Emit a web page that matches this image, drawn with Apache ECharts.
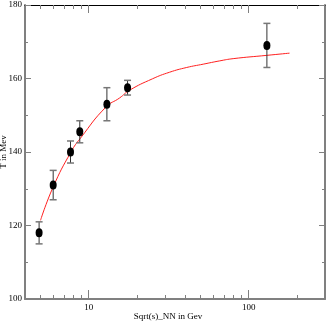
<!DOCTYPE html>
<html>
<head>
<meta charset="utf-8">
<script src="https://cdn.jsdelivr.net/npm/echarts@6/dist/echarts.min.js"></script>
<style>
  html, body { margin: 0; padding: 0; background: #fff; }
  #chart { width: 327px; height: 327px; }
</style>
</head>
<body>
<div id="chart"></div>
<script>
// measured points (sqrt(s_NN) in GeV, T in MeV)
const energy = [4.9, 6.0, 7.7, 8.8, 13.0, 17.5, 130];
const temperature = [118, 131, 140, 145.5, 153, 157.5, 169];
const errLow = [3, 4, 3, 3, 4.5, 2, 6];
const errHigh = [3, 4, 3, 3, 4.5, 2, 6];

// fit curve
const fitEnergy = [5, 6, 7.75, 8.9, 12.8, 15.6, 18, 25, 32, 41, 52, 66, 80, 130, 180];
const fitTemp = [121.4, 130.5, 140, 143.8, 152.2, 154.7, 156.8, 159.9, 161.7, 163, 163.9, 164.8, 165.4, 166.3, 166.9];

// tick labels
const xMajor = [10, 100];
const xMinor = [5, 6, 7, 8, 9, 20, 30, 40, 50, 60, 70, 80, 90, 200];
const yMin = 100, yMax = 180, yStep = 20;

const font = 'Liberation Serif';
const axisGray = '#808080';

const chart = echarts.init(document.getElementById('chart'));

function xAxisDef(pos, ticks, len, showLabel, showLine) {
  return {
    type: 'log',
    logBase: 10,
    min: 4,
    max: 300,
    position: pos,
    axisLine: { show: showLine, lineStyle: { color: pos === 'top' ? '#000' : axisGray, width: pos === 'top' ? 1 : 2 } },
    axisTick: { show: true, inside: true, length: len, customValues: ticks, lineStyle: { color: axisGray, width: 1 } },
    axisLabel: { show: showLabel, customValues: xMajor, margin: 4, color: '#000', fontFamily: font, fontSize: 9 },
    splitLine: { show: false }
  };
}

function yAxisDef(pos, showLabel) {
  return {
    type: 'value',
    min: yMin,
    max: yMax,
    interval: yStep,
    position: pos,
    axisLine: { show: true, lineStyle: { color: axisGray, width: 2 } },
    axisTick: { show: true, inside: true, length: 6, lineStyle: { color: axisGray, width: 1 } },
    minorTick: { show: true, splitNumber: 2, length: 3, lineStyle: { color: axisGray, width: 1 } },
    axisLabel: { show: showLabel, margin: 3, color: '#000', fontFamily: font, fontSize: 9 },
    splitLine: { show: false }
  };
}

const xAxes = [
  xAxisDef('bottom', xMajor, 9, true, true),
  xAxisDef('bottom', xMinor, 4, false, false),
  xAxisDef('top', xMajor, 8, false, true),
  xAxisDef('top', xMinor, 4, false, false)
];
xAxes[0].name = 'Sqrt(s)_NN in Gev';
xAxes[0].nameLocation = 'middle';
xAxes[0].nameGap = 13;
xAxes[0].nameMoveOverlap = false;
xAxes[0].nameTextStyle = { color: '#000', fontFamily: font, fontSize: 9, padding: [0, 14, 0, 0] };

const yAxes = [yAxisDef('left', true), yAxisDef('right', false)];
yAxes[0].name = 'T in Mev';
yAxes[0].nameLocation = 'middle';
yAxes[0].nameGap = 17;
yAxes[0].nameMoveOverlap = false;
yAxes[0].nameTextStyle = { color: '#000', fontFamily: font, fontSize: 9 };

const points = energy.map((e, i) => [e, temperature[i]]);
const bars = energy.map((e, i) => [e, temperature[i] - errLow[i], temperature[i] + errHigh[i]]);
const fit = fitEnergy.map((e, i) => [e, fitTemp[i]]);

chart.setOption({
  animation: false,
  backgroundColor: '#fff',
  grid: { left: 25, right: 2, top: 5, bottom: 28, outerBoundsMode: 'none', containLabel: false },
  xAxis: xAxes,
  yAxis: yAxes,
  series: [
    {
      type: 'line',
      data: fit,
      smooth: true,
      symbol: 'none',
      lineStyle: { color: '#ff2020', width: 1 },
      z: 2
    },
    {
      type: 'custom',
      data: bars,
      renderItem: function (params, api) {
        const lo = api.coord([api.value(0), api.value(1)]);
        const hi = api.coord([api.value(0), api.value(2)]);
        const w = 3.5;
        const cap = { stroke: '#777', lineWidth: 1.5 };
        return {
          type: 'group',
          children: [
            { type: 'line', shape: { x1: lo[0], y1: lo[1], x2: hi[0], y2: hi[1] }, style: { stroke: '#333', lineWidth: 1 } },
            { type: 'line', shape: { x1: lo[0] - w, y1: lo[1], x2: lo[0] + w, y2: lo[1] }, style: cap },
            { type: 'line', shape: { x1: hi[0] - w, y1: hi[1], x2: hi[0] + w, y2: hi[1] }, style: cap }
          ]
        };
      },
      z: 3
    },
    {
      type: 'scatter',
      data: points,
      symbol: 'circle',
      symbolSize: [7, 9],
      itemStyle: { color: '#000', opacity: 1 },
      z: 4
    }
  ]
});
</script>
</body>
</html>
